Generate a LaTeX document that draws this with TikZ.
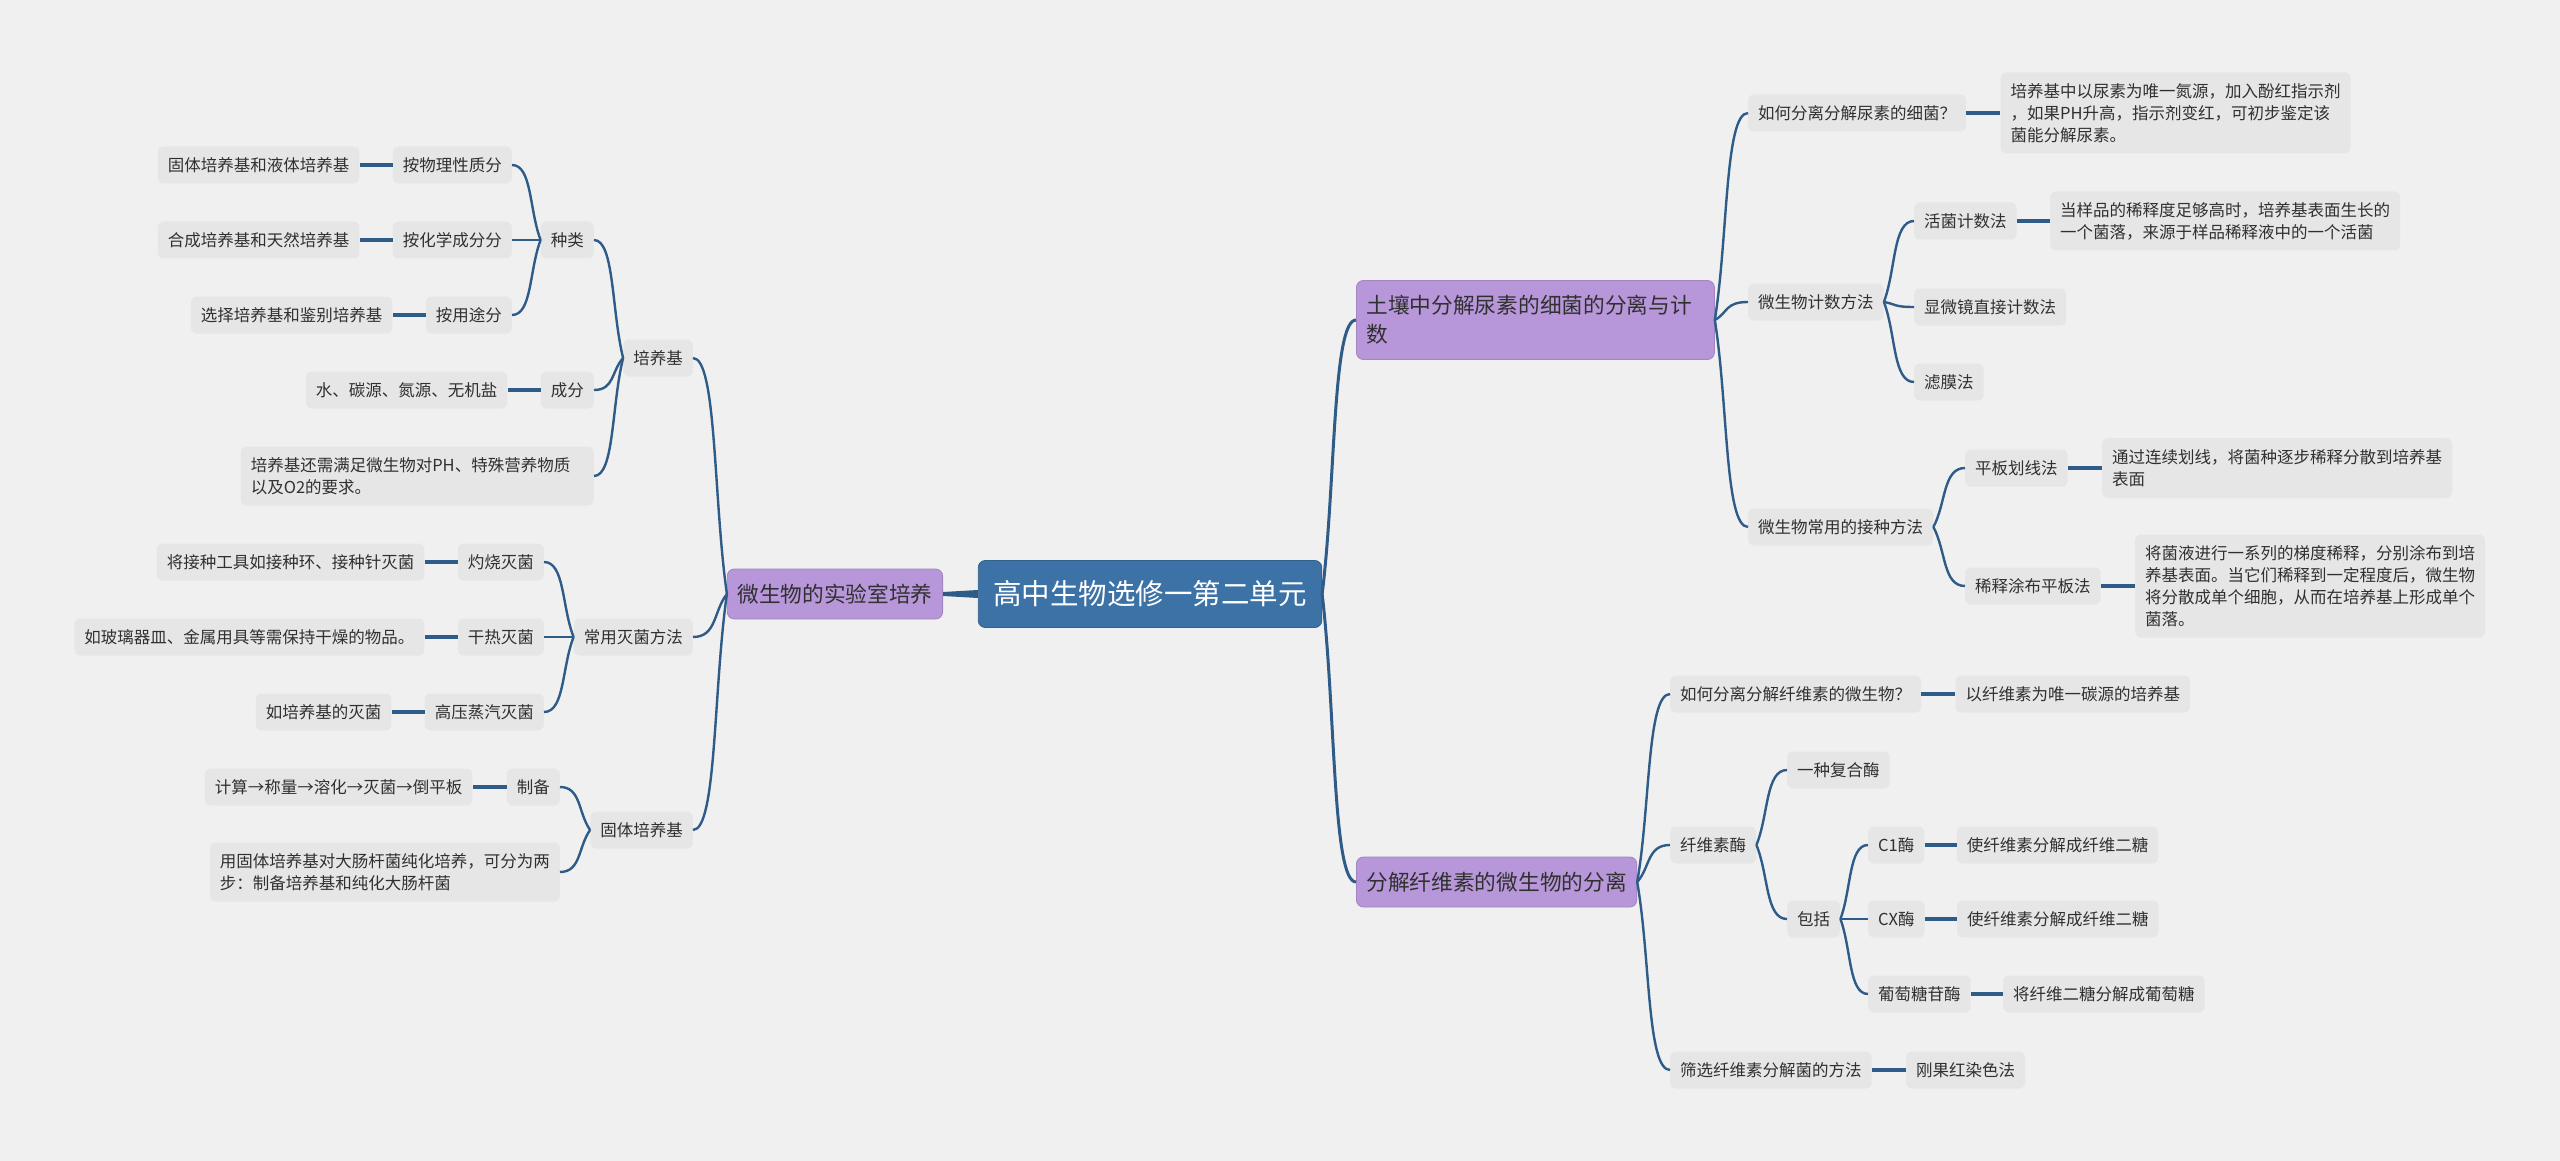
\documentclass[tikz,border=0pt]{standalone}
\usepackage{fontspec}
\setmainfont{Noto Sans CJK SC}
\usetikzlibrary{positioning, calc}
\definecolor{bgc}{HTML}{F0F0F0}
\definecolor{itemc}{HTML}{E6E6E6}
\definecolor{purc}{HTML}{B797D9}
\definecolor{rootc}{HTML}{3C72A6}
\definecolor{linec}{HTML}{2E5B87}
\definecolor{txtc}{HTML}{303030}
\tikzset{
    mindmap/.style={x=1pt, y=-1pt, font=\fontsize{16.5pt}{22pt}\selectfont, text=txtc},
    topic/.style={fill=rootc, draw=rootc!85!black, line width=0.8pt, rounded corners=7pt, text=white,
        font=\fontsize{28.5pt}{34pt}\selectfont, inner xsep=15pt, minimum height=67pt},
    branch/.style={fill=purc, draw=purc!88!black, line width=0.8pt, rounded corners=7pt,
        font=\fontsize{21.7pt}{29pt}\selectfont, inner xsep=10pt, minimum height=50pt},
    item/.style={fill=itemc, rounded corners=6pt, inner xsep=10pt, inner ysep=0pt, minimum height=37pt},
    note/.style={item, align=left},
    % curved connector: steep where it leaves the parent, flat where it meets the child
    link/.style={draw=linec, line width=2.4pt, to path={let \p1=(\tikztostart), \p2=(\tikztotarget) in
        .. controls ($(\p1)!0.4!(\p2)$) and ({0.7*\x1+0.3*\x2},\y2) .. (\p2)}},
    stub/.style={draw=linec, line width=4pt},
}

\begin{document}
\begin{tikzpicture}[mindmap]
    \fill[bgc] (0,0) rectangle (2560,1161);

    \node[topic] (root) at (1150,594) {高中生物选修一第二单元};

    % left half
    \node[branch, anchor=east] (lab) at (943,594) {微生物的实验室培养};

    \node[item, anchor=east] (medium) at (693,358) {培养基};
    \node[item, anchor=east] (kinds)  at (594,240) {种类};
    \node[item, anchor=east] (byphys) at (512,165) {按物理性质分};
    \node[item, left=33pt of byphys]  (phys)   {固体培养基和液体培养基};
    \node[item, anchor=east] (bychem) at (512,240) {按化学成分分};
    \node[item, left=33pt of bychem]  (chem)   {合成培养基和天然培养基};
    \node[item, anchor=east] (byuse)  at (512,315) {按用途分};
    \node[item, left=33pt of byuse]   (use)    {选择培养基和鉴别培养基};
    \node[item, anchor=east] (comp)   at (594,390) {成分};
    \node[item, left=33pt of comp]    (water)  {水、碳源、氮源、无机盐};
    \node[note, anchor=east, text width=333pt, minimum height=59pt] (extra) at (594,476)
        {培养基还需满足微生物对PH、特殊营养物质\\以及O2的要求。};

    \node[item, anchor=east] (steril) at (693,637) {常用灭菌方法};
    \node[item, anchor=east] (burn)   at (544,562) {灼烧灭菌};
    \node[item, left=33pt of burn]    (burnN)  {将接种工具如接种环、接种针灭菌};
    \node[item, anchor=east] (dry)    at (544,637) {干热灭菌};
    \node[item, left=33pt of dry]     (dryN)   {如玻璃器皿、金属用具等需保持干燥的物品。};
    \node[item, anchor=east] (steam)  at (544,712) {高压蒸汽灭菌};
    \node[item, left=33pt of steam]   (steamN) {如培养基的灭菌};

    \node[item, anchor=east] (solid)  at (693,830) {固体培养基};
    \node[item, anchor=east] (prep)   at (560,787) {制备};
    \node[item, left=34pt of prep]    (steps)  {计算→称量→溶化→灭菌→倒平板};
    \node[note, anchor=east, minimum height=59pt] (usage) at (560,872)
        {用固体培养基对大肠杆菌纯化培养，可分为两\\步：制备培养基和纯化大肠杆菌};

    % right half
    \node[branch, anchor=west, text width=338pt, align=left, minimum height=79pt] (soil) at (1356,320)
        {土壤中分解尿素的细菌的分离与计\\数};

    \node[item, anchor=west] (urea)   at (1748,113) {如何分离分解尿素的细菌？};
    \node[note, right=34pt of urea, minimum height=81pt] (ureaN)
        {培养基中以尿素为唯一氮源，加入酚红指示剂\\，如果PH升高，指示剂变红，可初步鉴定该\\菌能分解尿素。};
    \node[item, anchor=west] (count)  at (1748,302) {微生物计数方法};
    \node[item, anchor=west] (live)   at (1914,221) {活菌计数法};
    \node[note, right=33pt of live, minimum height=59pt] (liveN)
        {当样品的稀释度足够高时，培养基表面生长的\\一个菌落，来源于样品稀释液中的一个活菌};
    \node[item, anchor=west] (micro)  at (1914,307) {显微镜直接计数法};
    \node[item, anchor=west] (filt)   at (1914,382) {滤膜法};
    \node[item, anchor=west] (inoc)   at (1748,527) {微生物常用的接种方法};
    \node[item, anchor=west] (streak) at (1965,468) {平板划线法};
    \node[note, right=34pt of streak, minimum height=60pt] (streakN)
        {通过连续划线，将菌种逐步稀释分散到培养基\\表面};
    \node[item, anchor=west] (spread) at (1965,586) {稀释涂布平板法};
    \node[note, right=34pt of spread, minimum height=103pt] (spreadN)
        {将菌液进行一系列的梯度稀释，分别涂布到培\\养基表面。当它们稀释到一定程度后，微生物\\将分散成单个细胞，从而在培养基上形成单个\\菌落。};

    \node[branch, anchor=west] (fiber) at (1356,882) {分解纤维素的微生物的分离};
    \node[item, anchor=west] (fq)     at (1670,694) {如何分离分解纤维素的微生物？};
    \node[item, right=34pt of fq]     (fqN)    {以纤维素为唯一碳源的培养基};
    \node[item, anchor=west] (enz)    at (1670,845) {纤维素酶};
    \node[item, anchor=west] (one)    at (1787,770) {一种复合酶};
    \node[item, anchor=west] (incl)   at (1787,919) {包括};
    \node[item, anchor=west] (c1)     at (1868,845) {C1酶};
    \node[item, right=32pt of c1]     (c1N)    {使纤维素分解成纤维二糖};
    \node[item, anchor=west] (cx)     at (1868,919) {CX酶};
    \node[item, right=32pt of cx]     (cxN)    {使纤维素分解成纤维二糖};
    \node[item, anchor=west] (glu)    at (1868,994) {葡萄糖苷酶};
    \node[item, right=32pt of glu]    (gluN)   {将纤维二糖分解成葡萄糖};
    \node[item, anchor=west] (screen) at (1670,1070) {筛选纤维素分解菌的方法};
    \node[item, right=34pt of screen] (screenN) {刚果红染色法};

    % connectors
    \fill[linec] ([yshift=4pt]root.west) -- ([yshift=-4pt]root.west)
        -- ([yshift=-2pt]lab.east) -- ([yshift=2pt]lab.east) -- cycle;
    \foreach \c in {soil,fiber} \draw[link, line width=3pt] (root.east) to (\c.west);

    \foreach \c in {medium,steril,solid} \draw[link] (lab.west) to (\c.east);
    \foreach \c in {kinds,comp,extra} \draw[link] (medium.west) to (\c.east);
    \foreach \c in {byphys,bychem,byuse} \draw[link] (kinds.west) to (\c.east);
    \foreach \c in {burn,dry,steam} \draw[link] (steril.west) to (\c.east);
    \foreach \c in {prep,usage} \draw[link] (solid.west) to (\c.east);
    \foreach \a/\b in {byphys/phys,bychem/chem,byuse/use,comp/water,burn/burnN,dry/dryN,steam/steamN,prep/steps}
        \draw[stub] (\a.west) -- (\b.east);

    \foreach \c in {urea,count,inoc} \draw[link] (soil.east) to (\c.west);
    \foreach \c in {live,micro,filt} \draw[link] (count.east) to (\c.west);
    \foreach \c in {streak,spread} \draw[link] (inoc.east) to (\c.west);
    \foreach \c in {fq,enz,screen} \draw[link] (fiber.east) to (\c.west);
    \foreach \c in {one,incl} \draw[link] (enz.east) to (\c.west);
    \foreach \c in {c1,cx,glu} \draw[link] (incl.east) to (\c.west);
    \foreach \a/\b in {urea/ureaN,live/liveN,streak/streakN,spread/spreadN,fq/fqN,c1/c1N,cx/cxN,glu/gluN,screen/screenN}
        \draw[stub] (\a.east) -- (\b.west);
\end{tikzpicture}
\end{document}
